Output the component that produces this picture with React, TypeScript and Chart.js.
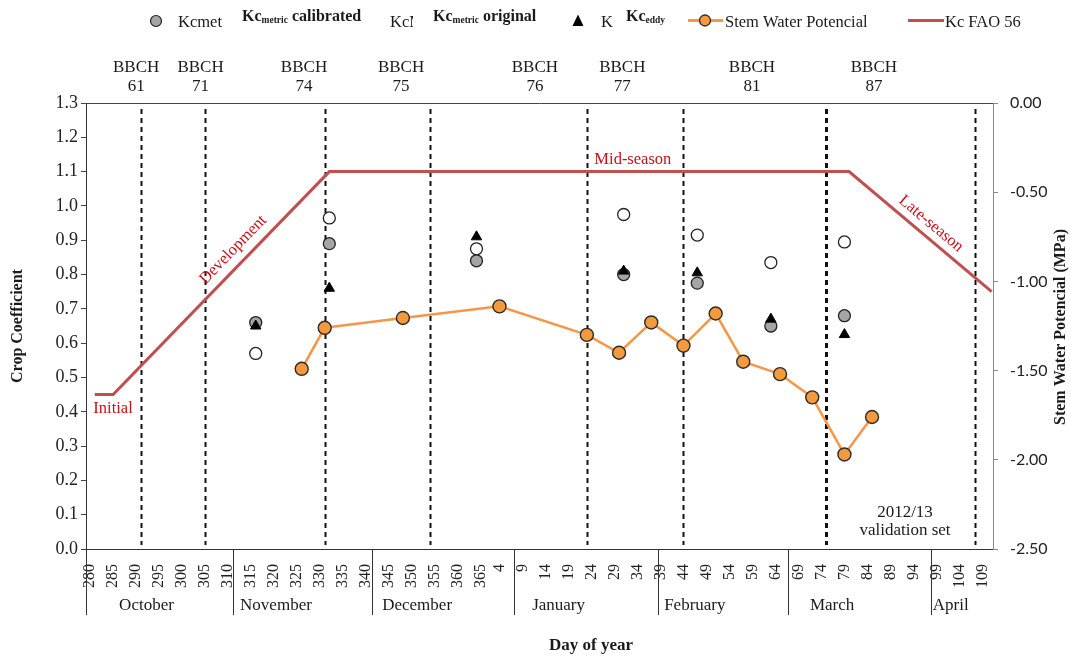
import React, { useEffect, useRef } from 'react';
import { Chart, registerables } from 'chart.js';

Chart.register(...registerables);

const SERIF = '"Liberation Serif", "Times New Roman", serif';
const SANS = 'Lato, "Liberation Sans", sans-serif';

// Day of year (DOY). Days below 200 belong to the following calendar year (2013).
const xTickDays = [
  280, 285, 290, 295, 300, 305, 310, 315, 320, 325, 330, 335, 340, 345, 350, 355, 360, 365,
  4, 9, 14, 19, 24, 29, 34, 39, 44, 49, 54, 59, 64, 69, 74, 79, 84, 89, 94, 99, 104, 109,
];

// Kc from METRIC and eddy covariance on the image dates
const kcDays = [316, 332, 364, 31, 47, 63, 79];
const kcMetricCalibrated = [0.66, 0.89, 0.84, 0.8, 0.775, 0.65, 0.68];
const kcMetricOriginal = [0.57, 0.965, 0.875, 0.975, 0.915, 0.835, 0.895];
const kcEddy = [0.65, 0.76, 0.91, 0.81, 0.805, 0.67, 0.625];

// Stem water potential (MPa)
const swpDays = [326, 331, 348, 4, 23, 30, 37, 44, 51, 57, 65, 72, 79, 85];
const swpValues = [-1.49, -1.26, -1.205, -1.14, -1.3, -1.4, -1.23, -1.36, -1.18, -1.45, -1.52, -1.65, -1.97, -1.76];

// FAO-56 crop coefficient curve
const faoDays = [281, 285, 332, 80, 111];
const faoKc = [0.45, 0.45, 1.1, 1.1, 0.75];

// Phenological stages
const bbchStages = ['61', '71', '74', '75', '76', '77', '81', '87'];
const bbchLabelDays = [290, 304, 326.5, 347.6, 11.7, 30.7, 58.9, 85.4];
const bbchLineDays = [291, 305, 331, 354, 23, 44, 75, 107.4];

// Month bands below the axis
const monthNames = ['October', 'November', 'December', 'January', 'February', 'March', 'April'];
const monthStartDays = [279.1, 311.1, 341.3, 7.2, 38.5, 66.7, 97.8];
const monthLabelDays = [286.3, 312.6, 343.5, 11.1, 39.8, 71.5, 98.2];

const X_MIN = 279.1;
const X_MAX = 476.3;

const toSeason = (doy: number) => (doy < 200 ? doy + 365 : doy);

const RED_TEXT = '#C8101A';
const FAO_RED = '#C0504D';
const ORANGE = '#F79646';
const INK = '#1a1a1a';

function drawLegend(ctx: CanvasRenderingContext2D) {
  ctx.save();
  ctx.fillStyle = INK;
  ctx.textAlign = 'left';
  ctx.textBaseline = 'alphabetic';
  const regular = `16.5px ${SERIF}`;
  const bold = `bold 16px ${SERIF}`;
  const sub = `bold 9.5px ${SERIF}`;

  const boldKc = (x: number, subText: string, rest: string) => {
    ctx.font = bold;
    ctx.fillText('Kc', x, 21);
    let cx = x + ctx.measureText('Kc').width;
    ctx.font = sub;
    ctx.fillText(subText, cx, 22.5);
    cx += ctx.measureText(subText).width;
    if (rest) {
      ctx.font = bold;
      ctx.fillText(rest, cx, 21);
    }
  };

  // Kcmet (calibrated)
  ctx.beginPath();
  ctx.arc(156, 21, 5.5, 0, Math.PI * 2);
  ctx.fillStyle = '#A5A5A5';
  ctx.fill();
  ctx.lineWidth = 1.2;
  ctx.strokeStyle = '#222';
  ctx.stroke();
  ctx.fillStyle = INK;
  ctx.font = regular;
  ctx.fillText('Kcmet', 178, 26.5);
  boldKc(242, 'metric', ' calibrated');

  // Kcmet (original), entry text cut off by the overlay
  ctx.save();
  ctx.beginPath();
  ctx.rect(385, 0, 28, 40);
  ctx.clip();
  ctx.font = regular;
  ctx.fillText('KcM', 390, 26.5);
  ctx.restore();
  boldKc(433, 'metric', ' original');

  // Kc eddy
  ctx.beginPath();
  ctx.moveTo(578, 14.5);
  ctx.lineTo(583.5, 26);
  ctx.lineTo(572.5, 26);
  ctx.closePath();
  ctx.fillStyle = '#000';
  ctx.fill();
  ctx.fillStyle = INK;
  ctx.font = regular;
  ctx.fillText('K', 601, 26.5);
  boldKc(626, 'eddy', '');

  // Stem water potential
  ctx.strokeStyle = ORANGE;
  ctx.lineWidth = 3;
  ctx.beginPath();
  ctx.moveTo(688, 20.5);
  ctx.lineTo(723, 20.5);
  ctx.stroke();
  ctx.beginPath();
  ctx.arc(705, 20.5, 5.5, 0, Math.PI * 2);
  ctx.fillStyle = '#F39A3F';
  ctx.fill();
  ctx.lineWidth = 1.3;
  ctx.strokeStyle = '#2b2b2b';
  ctx.stroke();
  ctx.fillStyle = INK;
  ctx.font = regular;
  ctx.fillText('Stem Water Potencial', 725, 26.5);

  // Kc FAO 56
  ctx.strokeStyle = FAO_RED;
  ctx.lineWidth = 3;
  ctx.beginPath();
  ctx.moveTo(908, 20.5);
  ctx.lineTo(944, 20.5);
  ctx.stroke();
  ctx.fillText('Kc FAO 56', 945, 26.5);
  ctx.restore();
}

const decorPlugin = {
  id: 'decor',
  beforeDatasetsDraw(chart: any) {
    const { ctx, chartArea: a, scales } = chart;
    const xs = scales.x;
    ctx.save();
    ctx.strokeStyle = '#111';
    ctx.setLineDash([5, 4]);
    bbchLineDays.forEach((d, i) => {
      const px = Math.round(xs.getPixelForValue(toSeason(d))) + 0.5;
      ctx.lineWidth = i === 6 ? 3 : 2;
      ctx.beginPath();
      ctx.moveTo(px, a.top + 6);
      ctx.lineTo(px, a.bottom - 4);
      ctx.stroke();
    });
    ctx.restore();
  },
  afterDraw(chart: any) {
    const { ctx, chartArea: a, scales } = chart;
    const xs = scales.x;
    const ys = scales.y;
    ctx.save();

    // top frame line
    ctx.strokeStyle = '#444';
    ctx.lineWidth = 1;
    ctx.beginPath();
    ctx.moveTo(a.left, a.top + 0.5);
    ctx.lineTo(a.right, a.top + 0.5);
    ctx.stroke();

    // BBCH stage labels
    ctx.fillStyle = INK;
    ctx.font = `17px ${SERIF}`;
    ctx.textAlign = 'center';
    ctx.textBaseline = 'middle';
    bbchStages.forEach((s, i) => {
      const px = xs.getPixelForValue(toSeason(bbchLabelDays[i]));
      ctx.fillText('BBCH', px, 68);
      ctx.fillText(s, px, 87);
    });

    // month separators and names
    ctx.strokeStyle = '#333';
    ctx.lineWidth = 1;
    monthStartDays.forEach((d) => {
      const px = Math.round(xs.getPixelForValue(toSeason(d))) + 0.5;
      ctx.beginPath();
      ctx.moveTo(px, a.bottom);
      ctx.lineTo(px, 615);
      ctx.stroke();
    });
    ctx.font = `17px ${SERIF}`;
    ctx.textAlign = 'left';
    monthNames.forEach((m, i) => {
      ctx.fillText(m, xs.getPixelForValue(toSeason(monthLabelDays[i])), 606);
    });

    // axis titles
    ctx.font = `bold 17px ${SERIF}`;
    ctx.textAlign = 'center';
    ctx.fillText('Day of year', 591, 646);
    ctx.font = `bold 16px ${SERIF}`;
    ctx.save();
    ctx.translate(18, 326);
    ctx.rotate(-Math.PI / 2);
    ctx.fillText('Crop Coefficient', 0, 0);
    ctx.restore();
    ctx.save();
    ctx.translate(1061, 327);
    ctx.rotate(-Math.PI / 2);
    ctx.fillText('Stem Water Potencial (MPa)', 0, 0);
    ctx.restore();

    // validation set note
    ctx.font = `17px ${SERIF}`;
    ctx.fillText('2012/13', 905, 513);
    ctx.fillText('validation set', 905, 531);

    // FAO-56 growth stage names
    ctx.fillStyle = RED_TEXT;
    ctx.font = `16.5px ${SERIF}`;
    ctx.textAlign = 'left';
    ctx.fillText('Initial', xs.getPixelForValue(280.7), ys.getPixelForValue(0.408));
    ctx.textAlign = 'center';
    ctx.fillText('Mid-season', xs.getPixelForValue(toSeason(33)), ys.getPixelForValue(1.134));
    ctx.save();
    ctx.translate(xs.getPixelForValue(311.1), ys.getPixelForValue(0.872));
    ctx.rotate((-46 * Math.PI) / 180);
    ctx.fillText('Development', 0, 0);
    ctx.restore();
    ctx.save();
    ctx.translate(xs.getPixelForValue(toSeason(97.8)), ys.getPixelForValue(0.948));
    ctx.rotate((40 * Math.PI) / 180);
    ctx.fillText('Late-season', 0, 0);
    ctx.restore();

    ctx.restore();
    drawLegend(ctx);
  },
};

export default function App() {
  const ref = useRef<HTMLCanvasElement | null>(null);

  useEffect(() => {
    document.body.style.margin = '0';
    const canvas = ref.current;
    if (!canvas) return;

    const pts = (days: number[], vals: number[]) =>
      days.map((d, i) => ({ x: toSeason(d), y: vals[i] }));

    const chart = new Chart(canvas, {
      type: 'scatter',
      data: {
        datasets: [
          {
            type: 'line',
            label: 'Kc FAO 56',
            data: pts(faoDays, faoKc),
            borderColor: FAO_RED,
            borderWidth: 3,
            pointRadius: 0,
            yAxisID: 'y',
            order: 5,
          },
          {
            label: 'Kcmetric original',
            data: pts(kcDays, kcMetricOriginal),
            backgroundColor: '#ffffff',
            borderColor: '#222',
            borderWidth: 1.3,
            pointRadius: 6,
            yAxisID: 'y',
            order: 4,
          },
          {
            label: 'Kcmetric calibrated',
            data: pts(kcDays, kcMetricCalibrated),
            backgroundColor: '#A5A5A5',
            borderColor: '#222',
            borderWidth: 1.3,
            pointRadius: 6,
            yAxisID: 'y',
            order: 3,
          },
          {
            label: 'Kceddy',
            data: pts(kcDays, kcEddy),
            pointStyle: 'triangle',
            backgroundColor: '#000',
            borderColor: '#000',
            borderWidth: 1,
            pointRadius: 6,
            yAxisID: 'y',
            order: 2,
          },
          {
            type: 'line',
            label: 'Stem Water Potencial',
            data: pts(swpDays, swpValues),
            borderColor: ORANGE,
            borderWidth: 2.5,
            pointRadius: 6.5,
            pointBackgroundColor: '#F39A3F',
            pointBorderColor: '#2b2b2b',
            pointBorderWidth: 1.4,
            yAxisID: 'y2',
            order: 1,
          },
        ],
      },
      options: {
        responsive: false,
        animation: false,
        devicePixelRatio: 1,
        layout: { padding: { top: 103, left: 0, right: 0, bottom: 0 } },
        plugins: { legend: { display: false }, tooltip: { enabled: false } },
        scales: {
          x: {
            type: 'linear',
            min: X_MIN,
            max: X_MAX,
            afterBuildTicks: (scale: any) => {
              scale.ticks = xTickDays.map((d) => ({ value: toSeason(d) }));
            },
            afterFit: (scale: any) => {
              scale.height = 108;
            },
            grid: { display: false },
            border: { display: true, color: '#333', width: 1 },
            ticks: {
              autoSkip: false,
              minRotation: 90,
              maxRotation: 90,
              padding: 7,
              color: '#222',
              font: { family: SERIF, size: 16 },
              callback: (v: any) => {
                const n = Math.round(Number(v));
                return String(n > 365 ? n - 365 : n);
              },
            },
          },
          y: {
            type: 'linear',
            position: 'left',
            min: 0,
            max: 1.3,
            afterFit: (scale: any) => {
              scale.width = 86;
            },
            grid: { display: true, drawOnChartArea: false, drawTicks: true, tickLength: 5, color: '#444' },
            border: { display: true, color: '#333', width: 1 },
            ticks: {
              stepSize: 0.1,
              padding: 3,
              color: '#222',
              font: { family: SERIF, size: 18 },
              callback: (v: any) => Number(v).toFixed(1),
            },
          },
          y2: {
            type: 'linear',
            position: 'right',
            min: -2.5,
            max: 0,
            afterFit: (scale: any) => {
              scale.width = 78;
            },
            grid: { display: true, drawOnChartArea: false, drawTicks: true, tickLength: 5, color: '#888' },
            border: { display: true, color: '#888', width: 1 },
            ticks: {
              stepSize: 0.5,
              padding: 12,
              color: '#222',
              font: { family: SANS, size: 16 },
              callback: (v: any) => Number(v).toFixed(2),
            },
          },
        },
      },
      plugins: [decorPlugin],
    } as any);

    return () => chart.destroy();
  }, []);

  return (
    <div style={{ width: 1071, height: 657 }}>
      <canvas ref={ref} width={1071} height={657} style={{ display: 'block' }} />
    </div>
  );
}
